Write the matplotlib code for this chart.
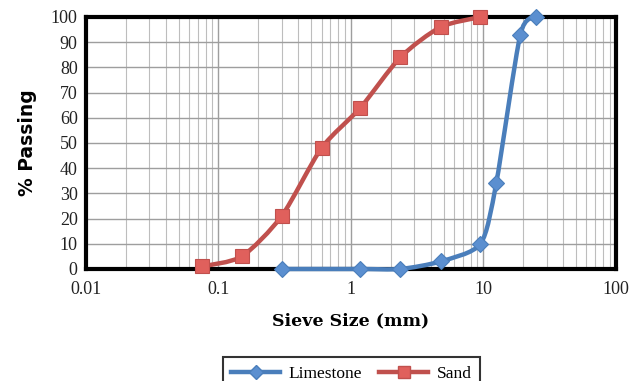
import numpy as np
import matplotlib
matplotlib.use("Agg")
import matplotlib.pyplot as plt
from matplotlib.path import Path
from matplotlib.patches import PathPatch
from matplotlib.lines import Line2D
from matplotlib.ticker import LogLocator, FixedLocator, NullFormatter

# ---- data ----
limestone_size = [0.3, 1.18, 2.36, 4.75, 9.5, 12.5, 19.0, 25.0]
limestone_pass = [0, 0, 0, 3, 10, 34, 93, 100]
sand_size = [0.075, 0.15, 0.3, 0.6, 1.18, 2.36, 4.75, 9.5]
sand_pass = [1, 5, 21, 48, 64, 84, 96, 100]
x_ticks = [0.01, 0.1, 1, 10, 100]
x_tick_labels = ["0.01", "0.1", "1", "10", "100"]
y_ticks = list(range(0, 101, 10))

blue = "#4A7EBB"
blue_m = "#5B8FD0"
red = "#C0504D"
red_m = "#E0605C"

fig = plt.figure(figsize=(6.31, 3.81), dpi=100)
ax = fig.add_axes([0.1363, 0.294, 0.976 - 0.1363, 0.9554 - 0.294])
ax.set_xscale("log")
ax.set_xlim(0.01, 100)
ax.set_ylim(0, 100)

W, H = 530.0, 252.0  # approximate pixel size of axes


def smooth_path(xs, ys, k=1.0 / 8.0):
    # Excel-like smoothed line (Catmull-Rom -> Bezier) in display-like space
    px = (np.log10(np.array(xs, float)) + 2) / 4 * W
    py = np.array(ys, float) / 100 * H
    P = np.column_stack([px, py])
    n = len(P)
    verts = [P[0]]
    codes = [Path.MOVETO]
    for i in range(n - 1):
        p0 = P[i - 1] if i > 0 else P[i]
        p1 = P[i]
        p2 = P[i + 1]
        p3 = P[i + 2] if i + 2 < n else P[i + 1]
        c1 = p1 + (p2 - p0) * k
        c2 = p2 - (p3 - p1) * k
        verts += [c1, c2, p2]
        codes += [Path.CURVE4] * 3
    V = np.array(verts)
    dx = 10 ** (V[:, 0] / W * 4 - 2)
    dy = V[:, 1] / H * 100
    return Path(np.column_stack([dx, dy]), codes)


for xs, ys, col in [(limestone_size, limestone_pass, blue), (sand_size, sand_pass, red)]:
    patch = PathPatch(smooth_path(xs, ys), facecolor="none", edgecolor=col,
                      lw=3.2, transform=ax.transData, zorder=3, clip_on=False,
                      capstyle="round", joinstyle="round")
    ax.add_patch(patch)

ax.plot(limestone_size, limestone_pass, ls="none", marker="D", ms=8,
        mfc=blue_m, mec=blue, mew=0.8, zorder=4, clip_on=False)
ax.plot(sand_size, sand_pass, ls="none", marker="s", ms=10,
        mfc=red_m, mec=red, mew=0.8, zorder=4, clip_on=False)

ax.xaxis.set_major_locator(FixedLocator(x_ticks))
ax.set_xticklabels(x_tick_labels)
ax.xaxis.set_minor_locator(LogLocator(base=10, subs=np.arange(2, 10)))
ax.xaxis.set_minor_formatter(NullFormatter())
ax.set_yticks(y_ticks)

ax.grid(True, which="major", color="#9E9E9E", lw=1.0)
ax.grid(True, which="minor", axis="x", color="#BDBDBD", lw=0.8)
ax.set_axisbelow(True)

for s in ax.spines.values():
    s.set_linewidth(3)
    s.set_color("black")

for lab in ax.get_xticklabels() + ax.get_yticklabels():
    lab.set_fontfamily("Liberation Serif")
    lab.set_fontsize(13)
    lab.set_color("#222222")
ax.tick_params(axis="both", which="both", length=0)
ax.tick_params(axis="x", pad=9)
ax.tick_params(axis="y", pad=6)

ax.set_ylabel("% Passing", fontfamily="DejaVu Sans", fontweight="bold",
              fontsize=13.5, labelpad=10)
ax.set_xlabel("Sieve Size (mm)", fontfamily="DejaVu Serif", fontweight="bold",
              fontsize=12.5, labelpad=10)

handles = [
    Line2D([], [], color=blue, lw=3.2, marker="D", ms=7, mfc=blue_m, mec=blue),
    Line2D([], [], color=red, lw=3.2, marker="s", ms=8, mfc=red_m, mec=red),
]
leg = fig.legend(handles, ["Limestone", "Sand"], loc="upper center",
                 bbox_to_anchor=(0.557, 0.085), ncol=2, frameon=True,
                 fancybox=False, prop=dict(family="Liberation Serif", size=12.5),
                 handlelength=2.8, columnspacing=1.0, handletextpad=0.5,
                 borderpad=0.5)
leg.get_frame().set_edgecolor("black")
leg.get_frame().set_linewidth(1.5)

fig.savefig("out.png", dpi=100)
